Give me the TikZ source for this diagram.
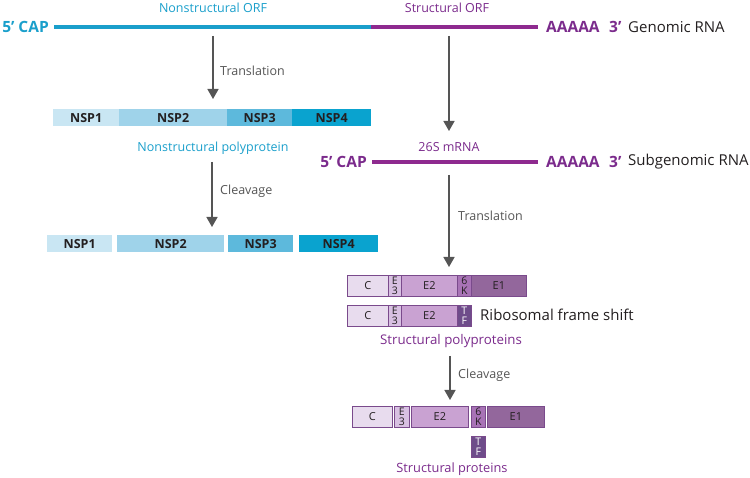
\documentclass[tikz,border=0pt]{standalone}
\usepackage{fontspec}
\setmainfont{Open Sans}
\usetikzlibrary{arrows.meta}
\definecolor{cblue}{HTML}{1A9FCB}
\definecolor{cpurple}{HTML}{7B2B8C}
\definecolor{lpurple}{HTML}{8E2A8F}
\definecolor{cgray}{HTML}{555555}
\definecolor{ctext}{HTML}{231F20}
\definecolor{nspA}{HTML}{C9E6F3}
\definecolor{nspB}{HTML}{9FD3EA}
\definecolor{nspC}{HTML}{5DB9DC}
\definecolor{nspD}{HTML}{0AA3CF}
\definecolor{pC}{HTML}{E8DCEE}
\definecolor{pE3}{HTML}{D8C0E2}
\definecolor{pE2}{HTML}{C9A2D2}
\definecolor{p6K}{HTML}{A873B6}
\definecolor{pE1}{HTML}{93679C}
\definecolor{pTF}{HTML}{6E4C8A}
\definecolor{pborder}{HTML}{7A4A8C}
\newcommand{\stacklbl}[2]{\fontsize{10.5}{9}\selectfont\shortstack{#1\\#2}}
\tikzset{
  x=1pt, y=-1pt,
  lbl/.style={inner sep=0pt, font=\fontsize{15}{17}\selectfont},
  blbl/.style={inner sep=0pt, font=\fontsize{15.5}{17}\selectfont\bfseries},
  small/.style={inner sep=0pt, font=\fontsize{12.5}{14}\selectfont},
  nsp/.style={inner sep=0pt, anchor=north west, minimum height=17pt, font=\fontsize{12.5}{14}\selectfont\bfseries, text=ctext},
  prot/.style={draw=pborder, line width=0.7pt, inner sep=0pt, anchor=north west, minimum height=21pt, text=ctext, font=\fontsize{11}{12}\selectfont},
  stk/.style={prot},
  rna/.style={line width=4pt},
  arr/.style={cgray, line width=1.4pt, -{Triangle[length=10pt,width=11pt]}},
}
\begin{document}
\begin{tikzpicture}
\useasboundingbox (0,0) rectangle (750,478);
% genomic RNA
\node[blbl, anchor=east, text=cblue] (cap1) at (49,27) {5’ CAP};
\coordinate (g0) at (54,27);
\coordinate (gm) at (371,27);
\coordinate (g1) at (538,27);
\draw[rna, cblue] (g0) -- (gm);
\draw[rna, lpurple] (gm) -- (g1);
\node[blbl, anchor=west, text=cpurple] (a1) at (546,27) {AAAAA};
\node[blbl, anchor=west, text=cpurple] (t1) at (609,27) {3’};
\node[lbl, anchor=west, text=ctext] (gr) at (628,27) {Genomic RNA};
\node[small, text=cblue] (nsorf) at (213,8) {Nonstructural ORF};
\node[small, text=cpurple] (sorf) at (447,8) {Structural ORF};
% translation arrow 1
\coordinate (ar1s) at (213,36);
\coordinate (ar1e) at (213,99);
\draw[arr] (ar1s) -- (ar1e);
\node[small, anchor=west, text=cgray] (tr1) at (220,71) {Translation};
% nonstructural polyprotein
\node[nsp, fill=nspA, minimum width=66pt] (n1) at (53,109) {NSP1};
\node[nsp, fill=nspB, minimum width=108pt] (n2) at (119,109) {NSP2};
\node[nsp, fill=nspC, minimum width=65pt] (n3) at (227,109) {NSP3};
\node[nsp, fill=nspD, minimum width=79pt] (n4) at (292,109) {NSP4};
\node[small, text=cblue] (nspp) at (213,148) {Nonstructural polyprotein};
% cleavage arrow 1
\coordinate (ar2s) at (212,162);
\coordinate (ar2e) at (212,227);
\draw[arr] (ar2s) -- (ar2e);
\node[small, anchor=west, text=cgray] (cl1) at (220,191) {Cleavage};
% cleaved nsps
\node[nsp, fill=nspA, minimum width=65pt] (m1) at (47,235) {NSP1};
\node[nsp, fill=nspB, minimum width=107pt] (m2) at (117,235) {NSP2};
\node[nsp, fill=nspC, minimum width=65pt] (m3) at (228,235) {NSP3};
\node[nsp, fill=nspD, minimum width=79pt] (m4) at (299,235) {NSP4};
% arrow to subgenomic
\coordinate (ar3s) at (449,36);
\coordinate (ar3e) at (449,131);
\draw[arr] (ar3s) -- (ar3e);
\node[small, text=cpurple] (m26) at (449,147) {26S mRNA};
% subgenomic RNA
\node[blbl, anchor=east, text=cpurple] (cap2) at (367,162) {5’ CAP};
\coordinate (s0) at (372,162);
\coordinate (s1) at (538,162);
\draw[rna, lpurple] (s0) -- (s1);
\node[blbl, anchor=west, text=cpurple] (a2) at (546,162) {AAAAA};
\node[blbl, anchor=west, text=cpurple] (t2) at (609,162) {3’};
\node[lbl, anchor=west, text=ctext] (sr) at (628,162) {Subgenomic RNA};
% translation arrow 2
\coordinate (ar4s) at (449,175);
\coordinate (ar4e) at (449,267);
\draw[arr] (ar4s) -- (ar4e);
\node[small, anchor=west, text=cgray] (tr2) at (458,216) {Translation};
% structural polyprotein row 1
\node[prot, fill=pC, minimum width=41pt] (r1c) at (347,275) {C};
\node[stk, fill=pE3, minimum width=13pt] (r1e3) at (388,275) {\stacklbl{E}{3}};
\node[prot, fill=pE2, minimum width=56pt] (r1e2) at (401,275) {E2};
\node[stk, fill=p6K, minimum width=14pt] (r1k) at (457,275) {\stacklbl{6}{K}};
\node[prot, fill=pE1, minimum width=55pt] (r1e1) at (471,275) {E1};
% row 2
\node[prot, fill=pC, minimum width=41pt] (r2c) at (347,305) {C};
\node[stk, fill=pE3, minimum width=13pt] (r2e3) at (388,305) {\stacklbl{E}{3}};
\node[prot, fill=pE2, minimum width=56pt] (r2e2) at (401,305) {E2};
\node[stk, fill=pTF, minimum width=14pt, text=white] (r2tf) at (457,305) {\stacklbl{T}{F}};
\node[lbl, anchor=west, text=ctext] (rfs) at (480,315) {Ribosomal frame shift};
\node[inner sep=0pt, text=cpurple, font=\fontsize{13.3}{15}\selectfont] (spp) at (451,341) {Structural polyproteins};
% cleavage arrow 2
\coordinate (ar5s) at (450,356);
\coordinate (ar5e) at (450,400);
\draw[arr] (ar5s) -- (ar5e);
\node[small, anchor=west, text=cgray] (cl2) at (458,375) {Cleavage};
% row 3
\node[prot, fill=pC, minimum width=40pt] (r3c) at (352,406) {C};
\node[stk, fill=pE3, minimum width=15pt] (r3e3) at (394,406) {\stacklbl{E}{3}};
\node[prot, fill=pE2, minimum width=57pt] (r3e2) at (411,406) {E2};
\node[stk, fill=p6K, minimum width=14pt] (r3k) at (471,406) {\stacklbl{6}{K}};
\node[prot, fill=pE1, minimum width=57pt] (r3e1) at (487,406) {E1};
\node[stk, fill=pTF, minimum width=14pt, text=white] (r3tf) at (471,436) {\stacklbl{T}{F}};
\node[inner sep=0pt, text=cpurple, font=\fontsize{12.8}{15}\selectfont] (sp) at (452,469) {Structural proteins};
\end{tikzpicture}
\end{document}
